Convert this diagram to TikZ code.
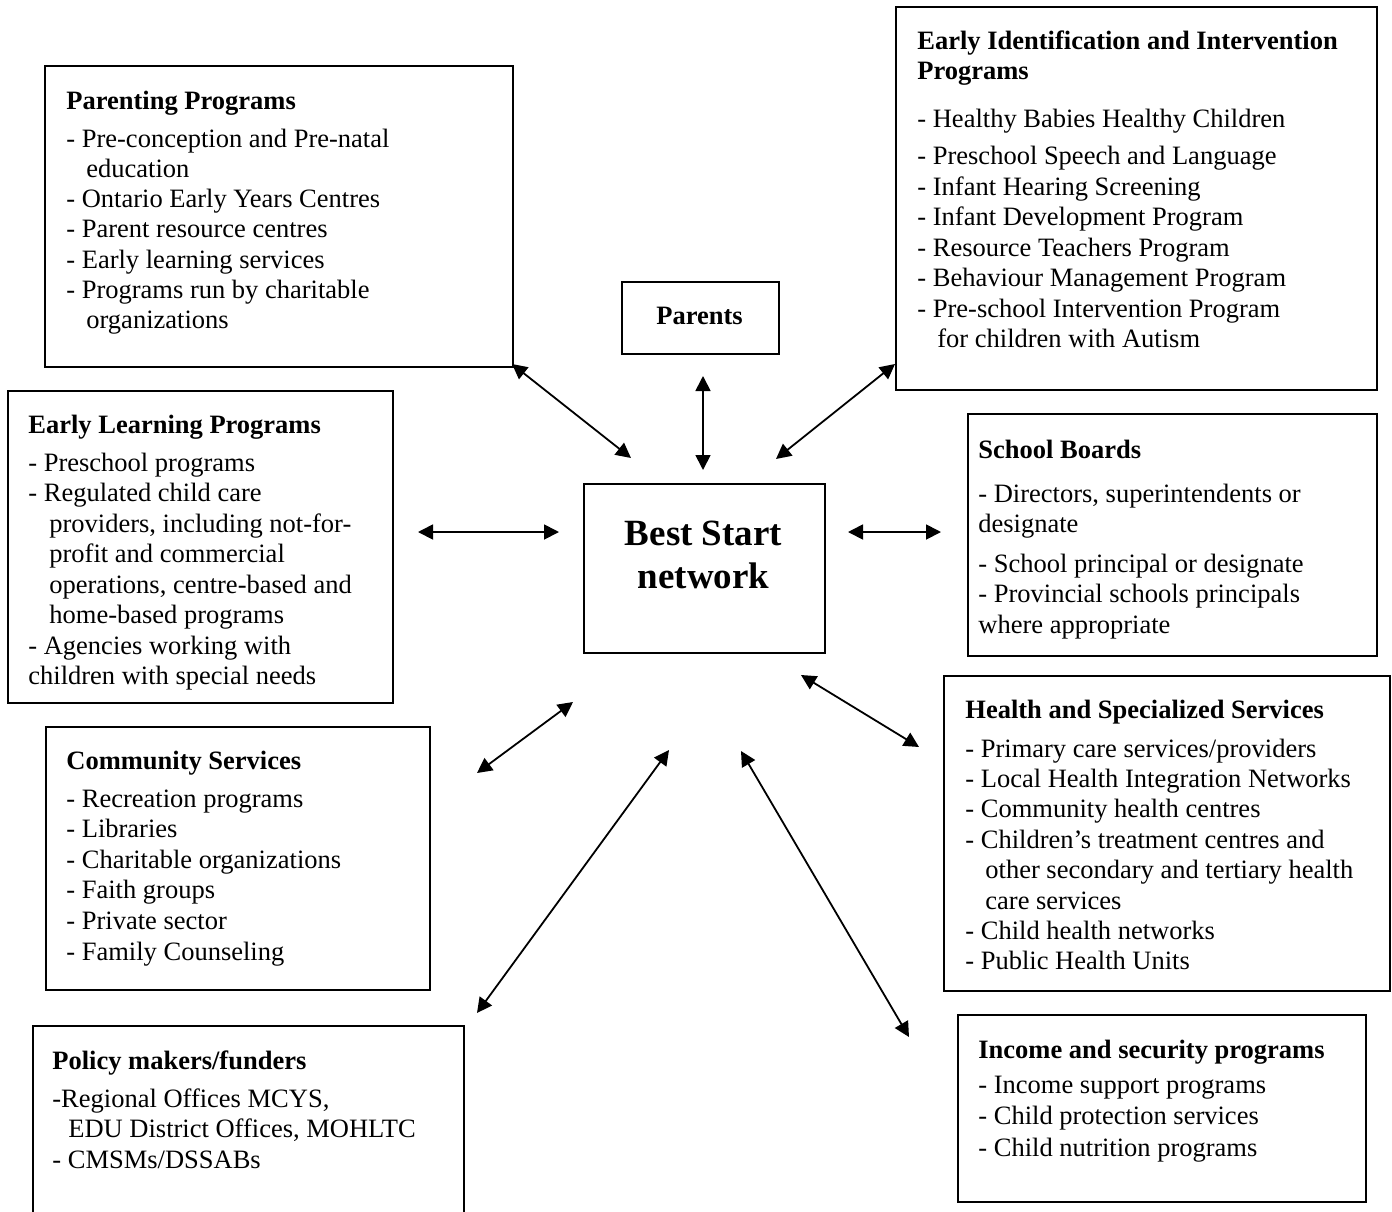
\documentclass[tikz,border=0pt]{standalone}
\usepackage{fontspec}
\setmainfont{Liberation Serif}
\usetikzlibrary{arrows.meta}
\newcommand\LeftLines[2]{\vtop{\baselineskip=#1\lineskiplimit=-30pt\halign{##\hfil\cr#2\crcr}}}
\newcommand\CenterLines[2]{\vtop{\baselineskip=#1\lineskiplimit=-30pt\halign{\hfil##\hfil\cr#2\crcr}}}
\newcommand\gap[1]{\noalign{\vskip#1}}
\tikzset{
  box/.style={draw, line width=1pt, inner sep=0pt, anchor=north west},
  txt/.style={inner sep=0pt, anchor=base west, font=\fontsize{13.25pt}{15.2pt}\selectfont},
  ctxt/.style={inner sep=0pt, anchor=base},
  arr/.style={line width=0.9pt, {Triangle[length=7.5pt,width=7.5pt]}-{Triangle[length=7.5pt,width=7.5pt]}},
}
\begin{document}
\begin{tikzpicture}[x=0.5pt,y=-0.5pt]
\fill[white] (0,0) rectangle (1392,1211);
\useasboundingbox (0,0) rectangle (1392,1211);

% boxes
\node[box, minimum width=234pt, minimum height=150.5pt] (parenting) at (44,65) {};
\node[box, minimum width=240.5pt, minimum height=191.5pt] (earlyid) at (895,6) {};
\node[box, minimum width=78.5pt, minimum height=36pt] (parents) at (621,281) {};
\node[box, minimum width=192.5pt, minimum height=156pt] (earlylearn) at (7,390) {};
\node[box, minimum width=120.5pt, minimum height=84.5pt] (beststart) at (583,483) {};
\node[box, minimum width=204.5pt, minimum height=121pt] (school) at (967,413) {};
\node[box, minimum width=223pt, minimum height=157.5pt] (health) at (943,675) {};
\node[box, minimum width=192pt, minimum height=131.5pt] (community) at (45,726) {};
\begin{scope}
\clip (0,0) rectangle (1392,1211);
\node[box, minimum width=215.5pt, minimum height=107.5pt] (policy) at (32,1025) {};
\end{scope}
\node[box, minimum width=204pt, minimum height=93.5pt] (income) at (957,1014) {};

% texts
\node[txt] (parentingT) at (66,109) {\LeftLines{15.15pt}{\textbf{Parenting Programs}\cr\gap{3.85pt}
- Pre-conception and Pre-natal\cr
\hskip10pt education\cr
- Ontario Early Years Centres\cr
- Parent resource centres\cr
- Early learning services\cr
- Programs run by charitable\cr
\hskip10pt organizations}};

\node[txt] (earlyidT) at (917,49) {\LeftLines{15.25pt}{\textbf{Early Identification and Intervention}\cr
\textbf{Programs}\cr\gap{8.8pt}
- Healthy Babies Healthy Children\cr\gap{3.3pt}
- Preschool Speech and Language\cr
- Infant Hearing Screening\cr
- Infant Development Program\cr
- Resource Teachers Program\cr
- Behaviour Management Program\cr
- Pre-school Intervention Program\cr
\hskip10pt for children with Autism}};

\node[ctxt, font=\fontsize{13.25pt}{15.2pt}\selectfont\bfseries] (parentsT) at (699.5,324) {Parents};

\node[txt] (earlylearnT) at (28,433) {\LeftLines{15.25pt}{\textbf{Early Learning Programs}\cr\gap{3.75pt}
- Preschool programs\cr
- Regulated child care\cr
\hskip10.5pt providers, including not-for-\cr
\hskip10.5pt profit and commercial\cr
\hskip10.5pt operations, centre-based and\cr
\hskip10.5pt home-based programs\cr
- Agencies working with\cr
children with special needs}};

\node[ctxt, font=\fontsize{18.5pt}{21.5pt}\selectfont\bfseries] (beststartT) at (703.5,545) {\CenterLines{21.5pt}{Best Start\cr network}};

\node[txt] (schoolT) at (978,458) {\LeftLines{15.25pt}{\textbf{School Boards}\cr\gap{6.85pt}
- Directors, superintendents or\cr
designate\cr\gap{4.6pt}
- School principal or designate\cr
- Provincial schools principals\cr
where appropriate}};

\node[txt] (healthT) at (965,718) {\LeftLines{15.2pt}{\textbf{Health and Specialized Services}\cr\gap{4.3pt}
- Primary care services/providers\cr
- Local Health Integration Networks\cr
- Community health centres\cr
- Children’s treatment centres and\cr
\hskip10pt other secondary and tertiary health\cr
\hskip10pt care services\cr
- Child health networks\cr
- Public Health Units}};

\node[txt] (communityT) at (66,769) {\LeftLines{15.3pt}{\textbf{Community Services}\cr\gap{3.7pt}
- Recreation programs\cr
- Libraries\cr
- Charitable organizations\cr
- Faith groups\cr
- Private sector\cr
- Family Counseling}};

\node[txt] (policyT) at (52,1069) {\LeftLines{15.25pt}{\textbf{Policy makers/funders}\cr\gap{3.75pt}
-Regional Offices MCYS,\cr
\hskip8pt EDU District Offices, MOHLTC\cr
- CMSMs/DSSABs}};

\node[txt] (incomeT) at (978,1058) {\LeftLines{15.7pt}{\textbf{Income and security programs}\cr\gap{1.9pt}
- Income support programs\cr
- Child protection services\cr
- Child nutrition programs}};

% arrow end points
\coordinate (a1s) at (512,364);  \coordinate (a1e) at (631,458);
\coordinate (a2s) at (703,376);  \coordinate (a2e) at (703,470);
\coordinate (a3s) at (895,364);  \coordinate (a3e) at (776,459);
\coordinate (a4s) at (418,532);  \coordinate (a4e) at (559,532);
\coordinate (a5s) at (848,532);  \coordinate (a5e) at (941,532);
\coordinate (a6s) at (573,702);  \coordinate (a6e) at (477,773);
\coordinate (a7s) at (669,750);  \coordinate (a7e) at (477,1013);
\coordinate (a8s) at (801,675);  \coordinate (a8e) at (919,747);
\coordinate (a9s) at (741,751);  \coordinate (a9e) at (909,1037);

\draw[arr] (a1s) -- (a1e);
\draw[arr] (a2s) -- (a2e);
\draw[arr] (a3s) -- (a3e);
\draw[arr] (a4s) -- (a4e);
\draw[arr] (a5s) -- (a5e);
\draw[arr] (a6s) -- (a6e);
\draw[arr] (a7s) -- (a7e);
\draw[arr] (a8s) -- (a8e);
\draw[arr] (a9s) -- (a9e);
\end{tikzpicture}
\end{document}
